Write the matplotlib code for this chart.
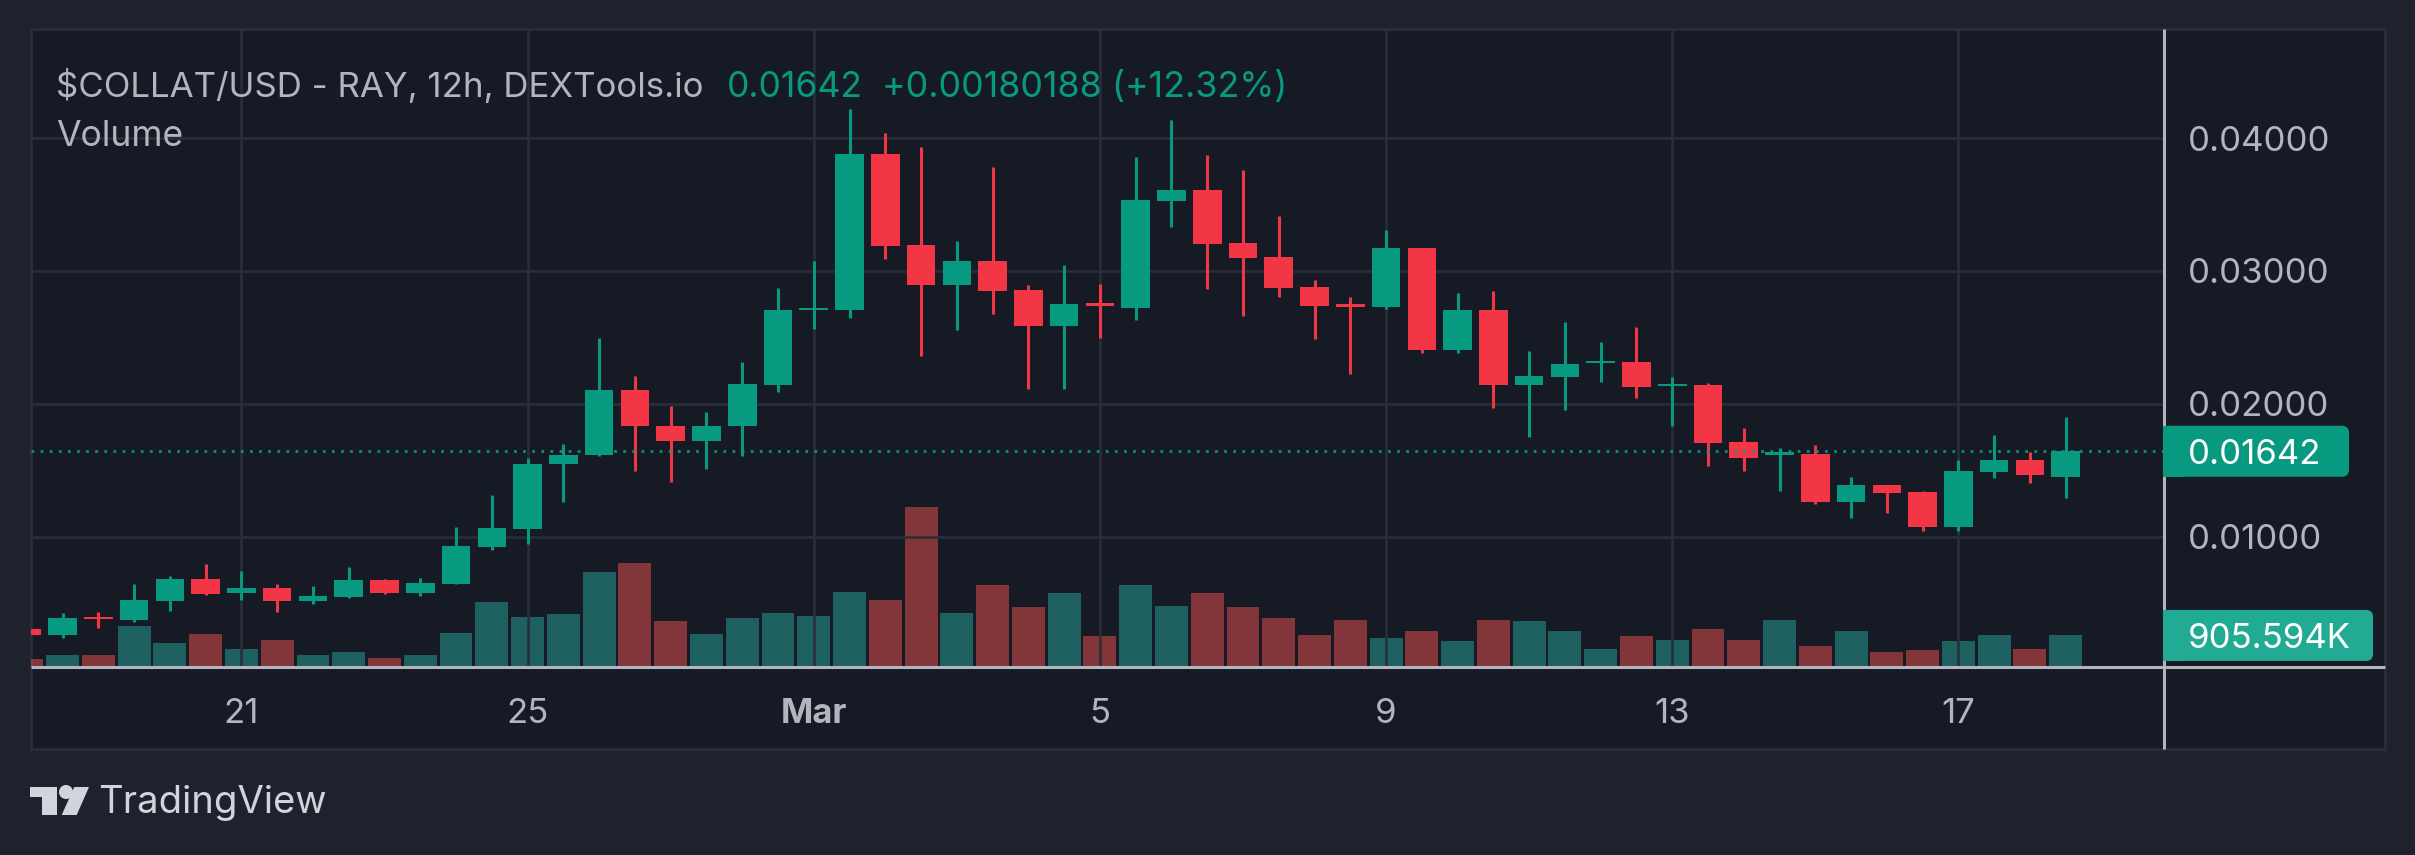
import matplotlib
matplotlib.use('Agg')
import matplotlib.pyplot as plt
import matplotlib.patches as mpatches

plt.rcParams['font.family'] = ['Inter', 'DejaVu Sans']

# 12h candles, 18 Feb 00:00 -> 18 Mar 12:00
opens = [0.00306, 0.00258, 0.00396, 0.00370, 0.00516, 0.00682, 0.00573, 0.00609, 0.00516, 0.00547,
         0.00676, 0.00578, 0.00646, 0.00923, 0.01058, 0.01544, 0.01611, 0.02105, 0.01833, 0.01723,
         0.01830, 0.02144, 0.02703, 0.02706, 0.03879, 0.03197, 0.02891, 0.03076, 0.02857, 0.02588,
         0.02759, 0.02722, 0.03525, 0.03609, 0.03211, 0.03104, 0.02880, 0.02750, 0.02728, 0.03174,
         0.02405, 0.02706, 0.02141, 0.02203, 0.02304, 0.02315, 0.02130, 0.02141, 0.01715, 0.01611,
         0.01622, 0.01263, 0.01389, 0.01339, 0.01075, 0.01487, 0.01577, 0.01451]
highs = [0.00310, 0.00427, 0.00435, 0.00646, 0.00704, 0.00797, 0.00744, 0.00646, 0.00631, 0.00772,
         0.00682, 0.00690, 0.01075, 0.01313, 0.01594, 0.01698, 0.02495, 0.02209, 0.01984, 0.01939,
         0.02315, 0.02871, 0.03076, 0.04218, 0.04039, 0.03932, 0.03225, 0.03783, 0.02891, 0.03045,
         0.02902, 0.03856, 0.04137, 0.03873, 0.03761, 0.03413, 0.02933, 0.02804, 0.03309, 0.03174,
         0.02835, 0.02849, 0.02397, 0.02616, 0.02467, 0.02579, 0.02203, 0.02158, 0.01819, 0.01667,
         0.01690, 0.01451, 0.01389, 0.01344, 0.01577, 0.01765, 0.01639, 0.01903]
lows = [0.00255, 0.00239, 0.00314, 0.00354, 0.00443, 0.00561, 0.00525, 0.00435, 0.00494, 0.00539,
        0.00570, 0.00556, 0.00646, 0.00901, 0.00946, 0.01257, 0.01603, 0.01490, 0.01409, 0.01510,
        0.01603, 0.02085, 0.02565, 0.02649, 0.03090, 0.02360, 0.02557, 0.02678, 0.02108, 0.02108,
        0.02495, 0.02633, 0.03331, 0.02866, 0.02661, 0.02804, 0.02489, 0.02226, 0.02714, 0.02383,
        0.02383, 0.01970, 0.01751, 0.01953, 0.02164, 0.02043, 0.01833, 0.01532, 0.01496, 0.01344,
        0.01246, 0.01142, 0.01179, 0.01044, 0.01044, 0.01443, 0.01406, 0.01291]
closes = [0.00258, 0.00390, 0.00376, 0.00525, 0.00682, 0.00570, 0.00609, 0.00516, 0.00556, 0.00676,
          0.00578, 0.00654, 0.00932, 0.01067, 0.01549, 0.01617, 0.02105, 0.01830, 0.01723, 0.01833,
          0.02150, 0.02706, 0.02722, 0.03879, 0.03191, 0.02891, 0.03076, 0.02852, 0.02588, 0.02750,
          0.02736, 0.03534, 0.03609, 0.03202, 0.03099, 0.02871, 0.02736, 0.02731, 0.03174, 0.02405,
          0.02706, 0.02141, 0.02209, 0.02301, 0.02324, 0.02127, 0.02150, 0.01706, 0.01594, 0.01633,
          0.01263, 0.01389, 0.01330, 0.01075, 0.01496, 0.01577, 0.01462, 0.01642]
volumes = [216e3, 356e3, 356e3, 1164e3, 679e3, 938e3, 507e3, 787e3, 356e3, 442e3,
           270e3, 334e3, 970e3, 1865e3, 1423e3, 1520e3, 2727e3, 2986e3, 1315e3, 938e3,
           1401e3, 1542e3, 1455e3, 2145e3, 1919e3, 4603e3, 1542e3, 2350e3, 1714e3, 2124e3,
           884e3, 2350e3, 1746e3, 2124e3, 1714e3, 1401e3, 906e3, 1337e3, 819e3, 1024e3,
           733e3, 1337e3, 1315e3, 1024e3, 507e3, 884e3, 765e3, 1078e3, 765e3, 1337e3,
           614e3, 1024e3, 420e3, 474e3, 733e3, 906e3, 528e3, 905594]

date_ticks = [6, 14, 22, 30, 38, 46, 54]
date_labels = ['21', '25', 'Mar', '5', '9', '13', '17']
price_ticks = [0.01, 0.02, 0.03, 0.04]
price_labels = ['0.01000', '0.02000', '0.03000', '0.04000']

symbol = r'\$COLLAT/USD - RAY, 12h, DEXTools.io'
change = 0.00180188
change_pct = 12.32

# colours
OUTER = '#1e222d'
PANEL = '#161a25'
GRID = '#2a2e39'
TEXT = '#b2b5be'
UP = '#089981'
DOWN = '#f23645'
VOL_UP = (38 / 255, 166 / 255, 154 / 255, 0.5)
VOL_DOWN = (239 / 255, 83 / 255, 80 / 255, 0.5)

W, H = 2415, 855
fig = plt.figure(figsize=(W / 100, H / 100), dpi=100, facecolor=OUTER)

# background panel (pixel coords, top origin)
bg = fig.add_axes([0, 0, 1, 1], zorder=0)
bg.set_xlim(0, W)
bg.set_ylim(H, 0)
bg.axis('off')
bg.add_patch(mpatches.Rectangle((31, 29), 2354, 720, facecolor=PANEL,
                                edgecolor=GRID, linewidth=2))

# price pane
pl, pr, pt, pb = 31, 2163, 29, 667
rect = [pl / W, 1 - pb / H, (pr - pl) / W, (pb - pt) / H]
ax = fig.add_axes(rect)
ax_v = ax.twinx()
ax_v.set_zorder(1)
ax.set_zorder(2)
ax.patch.set_visible(False)
ax_v.patch.set_visible(False)

idx = list(range(len(opens)))
x0, dx = 26.8, 35.77
ax.set_xlim((pl - x0) / dx, (pr - x0) / dx)
ax.set_ylim(0.00018, 0.04821)
ax_v.set_ylim(0, 18.3e6)

up = [c >= o for o, c in zip(opens, closes)]
colors = [UP if u else DOWN for u in up]
vcolors = [VOL_UP if u else VOL_DOWN for u in up]

# volume columns
ax_v.bar(idx, volumes, width=0.92, color=vcolors, linewidth=0)

# candles
ax.vlines(idx, lows, highs, colors=colors, linewidth=2.2, zorder=3)
ax.bar(idx, [abs(c - o) for o, c in zip(opens, closes)],
       bottom=[min(o, c) for o, c in zip(opens, closes)],
       width=0.8, color=colors, linewidth=0, zorder=4)

# last price dotted line
last = closes[-1]
ax.axhline(last, color=UP, linewidth=1.9, dashes=(1.05, 2.4),
           dash_capstyle='butt', zorder=5)

for a in (ax, ax_v):
    for s in a.spines.values():
        s.set_visible(False)
ax_v.set_yticks([])

ax.set_xticks(date_ticks)
ax.set_xticklabels(date_labels, va='baseline')
ax.get_xticklabels()[2].set_fontweight('bold')
ax.set_yticks(price_ticks)
ax.set_yticklabels(price_labels)
ax.yaxis.tick_right()
ax.tick_params(axis='x', length=0, pad=40.3, labelsize=25, labelcolor=TEXT)
ax.tick_params(axis='y', length=0, pad=18, labelsize=25, labelcolor=TEXT)
ax.grid(True, color=GRID, linewidth=1.8, zorder=0)
ax.set_axisbelow(True)

# overlay: scale borders, labels, titles, logo
top = fig.add_axes([0, 0, 1, 1], zorder=10)
top.set_xlim(0, W)
top.set_ylim(H, 0)
top.axis('off')
top.patch.set_visible(False)

top.plot([31, 2385], [667, 667], color=TEXT, linewidth=2.2, solid_capstyle='butt')
top.plot([2164, 2164], [29, 749], color=TEXT, linewidth=2.2, solid_capstyle='butt')

fig.canvas.draw()
y_price = H - ax.transData.transform((0, last))[1]
y_vol = H - ax_v.transData.transform((0, volumes[-1]))[1]


def scale_label(y, x_right, text, color):
    h = 51
    top.add_patch(mpatches.FancyBboxPatch((2163, y - h / 2), x_right - 2163, h,
                                          boxstyle='round,pad=0,rounding_size=7',
                                          facecolor=color, edgecolor='none', zorder=6))
    top.add_patch(mpatches.Rectangle((2163, y - h / 2), 20, h, facecolor=color,
                                     edgecolor='none', zorder=6))
    top.text(2188, y, text, color='white', fontsize=25, ha='left',
             va='center_baseline', zorder=7)


scale_label(y_price, 2349, '{:.5f}'.format(last), UP)
scale_label(y_vol, 2373, '{:.3f}K'.format(volumes[-1] / 1000), '#22ab94')

top.text(56, 97, symbol, color=TEXT, fontsize=25.1, va='baseline')
top.text(727, 97, '{:.5f}'.format(last), color=UP, fontsize=25.6, va='baseline')
top.text(882, 97, '+{:.8f} (+{:.2f}%)'.format(change, change_pct), color=UP,
         fontsize=25.8, va='baseline')
top.text(56, 146, 'Volume', color=TEXT, fontsize=25.6, va='baseline')

# TradingView logo
LOGO = '#d1d4dc'
top.add_patch(mpatches.Polygon([(30, 787), (57.3, 787), (57.3, 815), (41.7, 815),
                                (41.7, 797.3), (30, 797.3)], closed=True,
                               facecolor=LOGO, edgecolor='none'))
top.add_patch(mpatches.Circle((66, 792), 7, facecolor=LOGO, edgecolor='none'))
top.add_patch(mpatches.Polygon([(74.3, 787), (89, 787), (76.7, 815), (61.7, 815)],
                               closed=True, facecolor=LOGO, edgecolor='none'))
top.text(98, 813, 'TradingView', color=LOGO, fontsize=27.5, va='baseline')

fig.savefig('out.png', dpi=100, facecolor=OUTER)
